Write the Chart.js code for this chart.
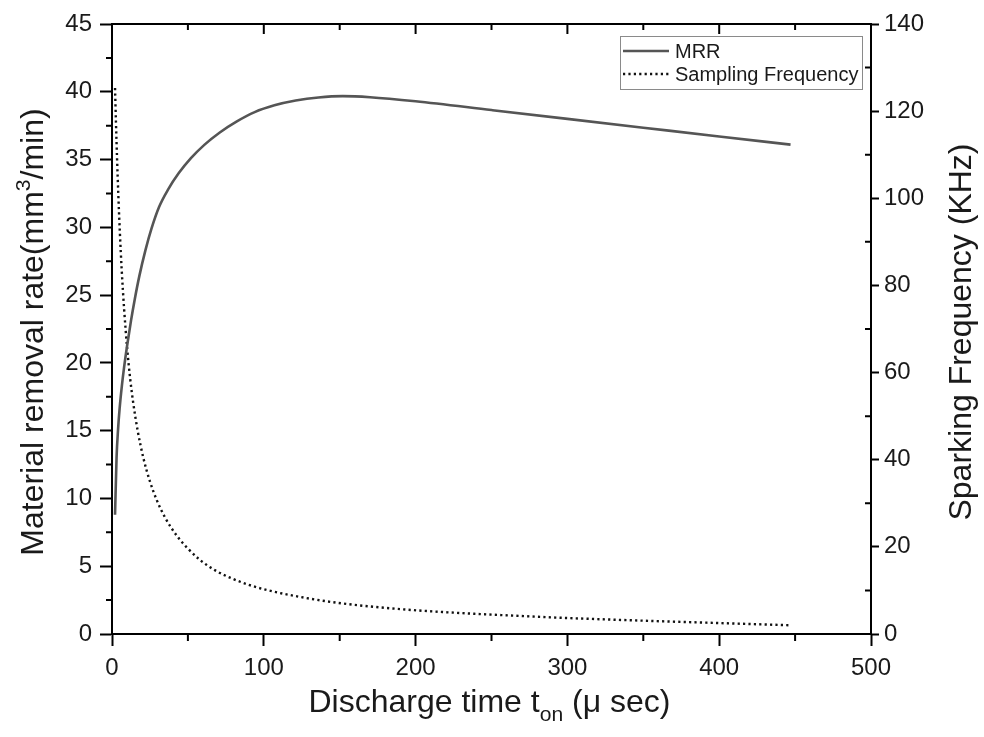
<!DOCTYPE html>
<html>
<head>
<meta charset="utf-8">
<script src="https://cdn.jsdelivr.net/npm/chart.js@4/dist/chart.umd.min.js"></script>
<style>html,body{margin:0;padding:0;background:#fff}</style>
</head>
<body>
<canvas id="chart" width="984" height="737"></canvas>
<script>
// values
const mrrTime   = [2, 3, 4, 5, 6.5, 8, 10, 12.5, 15, 18, 22, 26, 31, 37, 44, 52, 61, 71, 82, 94, 107, 121, 136, 152, 170, 200, 250, 300, 350, 400, 447];
const mrrValues = [8.8, 13.0, 15.1, 16.6, 18.3, 19.7, 21.3, 23.1, 24.7, 26.4, 28.3, 29.9, 31.5, 32.8, 34.0, 35.1, 36.1, 37.0, 37.8, 38.5, 39.0, 39.35, 39.58, 39.68, 39.6, 39.3, 38.65, 38.0, 37.35, 36.7, 36.1];
const freqTime   = [2, 2.6, 3.3, 4.2, 5.2, 6.4, 8, 10, 12, 14, 17, 20.6, 25, 29.4, 35, 42.6, 50, 58, 68, 80, 90, 102, 124, 152, 194, 230, 256, 290, 321, 355, 387, 420, 447];
const freqValues = [125.3, 117.5, 109.5, 100.5, 92, 83.5, 74.5, 65.5, 58.5, 53, 46.5, 40.5, 35, 30.8, 26.7, 22.6, 19.6, 17.0, 14.6, 12.6, 11.3, 10.1, 8.5, 7.0, 5.6, 4.8, 4.35, 3.8, 3.4, 3.0, 2.65, 2.3, 2.0];
const xTicks = [0, 100, 200, 300, 400, 500];
const mrrTicks = [0, 5, 10, 15, 20, 25, 30, 35, 40, 45];
const freqTicks = [0, 20, 40, 60, 80, 100, 120, 140];
const seriesNames = ['MRR', 'Sampling Frequency'];

const FONT = '"Liberation Sans", Arial, sans-serif';
const INK = '#1a1a1a';

function pts(xs, ys){ return xs.map((x, i) => ({x, y: ys[i]})); }

function measureRich(ctx, parts, size){
    let w = 0;
    parts.forEach(p => {
        p.s = p.k ? size * 0.66 : size;
        ctx.font = `${p.s}px ${FONT}`;
        p.w = ctx.measureText(p.t).width;
        w += p.w;
    });
    return w;
}
function drawRich(ctx, parts, size, cx, baseY, angle){
    ctx.save();
    ctx.translate(cx, baseY);
    ctx.rotate(angle);
    const w = measureRich(ctx, parts, size);
    let x = -w / 2;
    ctx.fillStyle = INK;
    ctx.textBaseline = 'alphabetic';
    ctx.textAlign = 'left';
    parts.forEach(p => {
        ctx.font = `${p.s}px ${FONT}`;
        const dy = p.k === 'sup' ? -size * 0.42 : (p.k === 'sub' ? size * 0.28 : 0);
        ctx.fillText(p.t, x, dy);
        x += p.w;
    });
    ctx.restore();
}

const framePlugin = {
    id: 'frame',
    afterDraw(chart){
        const {ctx, chartArea: a, scales} = chart;
        const sx = scales.x, sy = scales.y, sy1 = scales.y1;
        ctx.save();
        ctx.strokeStyle = '#000';
        ctx.lineWidth = 2;
        // top border
        ctx.beginPath();
        ctx.moveTo(a.left - 1, a.top); ctx.lineTo(a.right + 1, a.top);
        ctx.stroke();
        ctx.beginPath();
        // top ticks, inward
        for (let v = 50; v < 500; v += 50){
            const px = sx.getPixelForValue(v);
            const len = v % 100 === 0 ? 10 : 6;
            ctx.moveTo(px, a.top); ctx.lineTo(px, a.top + len);
        }
        // bottom minor ticks, outward
        for (let v = 50; v < 500; v += 100){
            const px = sx.getPixelForValue(v);
            ctx.moveTo(px, a.bottom); ctx.lineTo(px, a.bottom + 7);
        }
        // left minor ticks, outward
        for (let v = 2.5; v < 45; v += 5){
            const py = sy.getPixelForValue(v);
            ctx.moveTo(a.left, py); ctx.lineTo(a.left - 6, py);
        }
        // right minor ticks, inward
        for (let v = 10; v < 140; v += 20){
            const py = sy1.getPixelForValue(v);
            ctx.moveTo(a.right, py); ctx.lineTo(a.right - 6, py);
        }
        ctx.stroke();
        ctx.restore();

        // axis titles
        drawRich(ctx, [{t: 'Discharge time t'}, {t: 'on', k: 'sub'}, {t: ' (\u03bc sec)'}], 32, (a.left + a.right) / 2 - 2, 712, 0);
        drawRich(ctx, [{t: 'Material removal rate(mm'}, {t: '3', k: 'sup'}, {t: '/min)'}], 32, 43, (a.top + a.bottom) / 2 + 3, -Math.PI / 2);
        drawRich(ctx, [{t: 'Sparking Frequency (KHz)'}], 32, 971, (a.top + a.bottom) / 2 + 3, -Math.PI / 2);

        // legend box
        const ds = chart.data.datasets;
        const lx = 620, ly = 36, lw = 242, lh = 53;
        ctx.save();
        ctx.strokeStyle = '#8a8a8a';
        ctx.lineWidth = 1;
        ctx.strokeRect(lx + 0.5, ly + 0.5, lw, lh);
        ds.forEach((d, i) => {
            const y = ly + 15 + i * 23;
            ctx.beginPath();
            ctx.strokeStyle = d.borderColor;
            ctx.lineWidth = d.borderWidth;
            ctx.setLineDash(d.borderDash || []);
            ctx.moveTo(lx + 3, y); ctx.lineTo(lx + 49, y);
            ctx.stroke();
            ctx.setLineDash([]);
            ctx.fillStyle = INK;
            ctx.font = `20px ${FONT}`;
            ctx.textBaseline = 'middle';
            ctx.fillText(d.label, lx + 55, y + 1);
        });
        ctx.restore();
    }
};

function axis(min, max, list, position, size, tickLen, pad){
    return {
        type: 'linear', position, min, max,
        afterBuildTicks: s => { s.ticks = list.map(v => ({value: v})); },
        afterFit: s => { if (position === 'bottom') s.height = size; else s.width = size; },
        ticks: { color: INK, font: {family: FONT, size: 24}, padding: pad },
        grid: { drawOnChartArea: false, drawTicks: true, tickLength: tickLen, tickWidth: 2, tickColor: '#000' },
        border: { display: true, color: '#000', width: 2 }
    };
}

new Chart(document.getElementById('chart'), {
    type: 'line',
    data: {
        datasets: [
            { label: seriesNames[0], data: pts(mrrTime, mrrValues), yAxisID: 'y',
              borderColor: '#555555', borderWidth: 2.6, pointRadius: 0, cubicInterpolationMode: 'monotone', fill: false },
            { label: seriesNames[1], data: pts(freqTime, freqValues), yAxisID: 'y1',
              borderColor: '#111111', borderWidth: 2.4, borderDash: [2.2, 3.2], pointRadius: 0, cubicInterpolationMode: 'monotone', fill: false }
        ]
    },
    options: {
        responsive: false,
        animation: false,
        layout: { padding: { top: 24, left: 0, right: 0, bottom: 0 } },
        plugins: { legend: { display: false }, tooltip: { enabled: false } },
        scales: {
            x: axis(0, 500, xTicks, 'bottom', 103, 12, 8),
            y: axis(0, 45, mrrTicks, 'left', 112, 12, 8),
            y1: axis(0, 140, freqTicks, 'right', 113, 8, 5)
        }
    },
    plugins: [framePlugin]
});
</script>
</body>
</html>
